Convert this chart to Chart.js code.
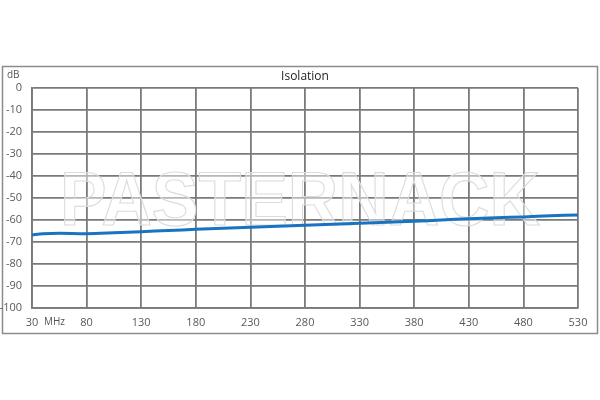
<!DOCTYPE html>
<html>
<head>
<meta charset="utf-8">
<script src="https://cdn.jsdelivr.net/npm/chart.js@4"></script>
<style>
  html, body { margin: 0; padding: 0; background: #fff; }
  #caja { position: relative; width: 600px; height: 400px; }
</style>
</head>
<body>
<div id="caja"><canvas id="grafico" width="600" height="400"></canvas></div>
<script>
// datos
const frecuencias = [30, 40, 55, 80, 105, 130, 155, 180, 205, 230, 255, 280, 305, 330, 355, 380, 405, 430, 455, 480, 505, 530];
const aislamiento = [-66.8, -66.2, -66.0, -66.2, -65.8, -65.3, -64.8, -64.2, -63.8, -63.3, -62.8, -62.4, -61.9, -61.5, -61.0, -60.6, -60.0, -59.4, -59.0, -58.6, -58.1, -57.7];
const ticksX = [30, 80, 130, 180, 230, 280, 330, 380, 430, 480, 530];
const ticksY = [0, -10, -20, -30, -40, -50, -60, -70, -80, -90, -100];

const colorGrid = '#7a7a7a';
const fuente = "'Open Sans', 'Liberation Sans', sans-serif";

const textos = {
    id: 'textos',
    beforeDraw(chart) {
        const ctx = chart.ctx;
        ctx.save();
        // marco exterior
        ctx.strokeStyle = '#8c8c8c';
        ctx.lineWidth = 1.5;
        ctx.strokeRect(2.5, 66.5, 595, 267);
        ctx.restore();
    },
    beforeDatasetsDraw(chart) {
        const ctx = chart.ctx;
        ctx.save();
        // marca de agua
        ctx.font = "bold 76px 'Liberation Sans', Arial, sans-serif";
        const ancho = ctx.measureText('PASTERNACK').width;
        ctx.translate(60, 225);
        ctx.scale(480 / ancho, 1);
        ctx.textBaseline = 'alphabetic';
        ctx.fillStyle = 'rgba(255,255,255,0.45)';
        ctx.fillText('PASTERNACK', 0, 0);
        ctx.strokeStyle = '#dcdcdc';
        ctx.lineWidth = 1.2;
        ctx.strokeText('PASTERNACK', 0, 0);
        ctx.restore();
    },
    afterDraw(chart) {
        const ctx = chart.ctx;
        const area = chart.chartArea;
        ctx.save();
        ctx.fillStyle = '#222';
        ctx.font = '12px ' + fuente;
        ctx.textAlign = 'center';
        ctx.textBaseline = 'middle';
        ctx.fillText('Isolation', (area.left + area.right) / 2, 77);
        ctx.fillStyle = '#555';
        ctx.font = '10px ' + fuente;
        ctx.textAlign = 'left';
        ctx.fillText('dB', 7, 75);
        ctx.fillText('MHz', 44, 322);
        ctx.restore();
    }
};

new Chart(document.getElementById('grafico'), {
    type: 'line',
    data: {
        datasets: [{
            label: 'Isolation',
            data: frecuencias.map((f, i) => ({ x: f, y: aislamiento[i] })),
            borderColor: '#1a73c2',
            borderWidth: 3,
            pointRadius: 0,
            tension: 0.3,
            fill: false
        }]
    },
    options: {
        responsive: false,
        animation: false,
        layout: { padding: { left: 0, top: 88, right: 22, bottom: 0 } },
        plugins: {
            legend: { display: false },
            tooltip: { enabled: false }
        },
        scales: {
            x: {
                type: 'linear',
                min: 30,
                max: 530,
                afterBuildTicks: (scale) => { scale.ticks = ticksX.map(v => ({ value: v })); },
                afterFit: (scale) => { scale.height = 92; },
                grid: { color: colorGrid, lineWidth: 1.8, drawTicks: false },
                border: { color: colorGrid, width: 1.8 },
                ticks: {
                    padding: 8,
                    color: '#595959',
                    font: { family: fuente, size: 11 },
                    maxRotation: 0,
                    autoSkip: false
                }
            },
            y: {
                min: -100,
                max: 0,
                afterBuildTicks: (scale) => { scale.ticks = ticksY.map(v => ({ value: v })); },
                afterFit: (scale) => { scale.width = 32; },
                grid: { color: colorGrid, lineWidth: 1.8, drawTicks: false },
                border: { color: colorGrid, width: 1.8 },
                ticks: {
                    padding: 10,
                    color: '#595959',
                    font: { family: fuente, size: 11 },
                    autoSkip: false
                }
            }
        }
    },
    plugins: [textos]
});
</script>
</body>
</html>
